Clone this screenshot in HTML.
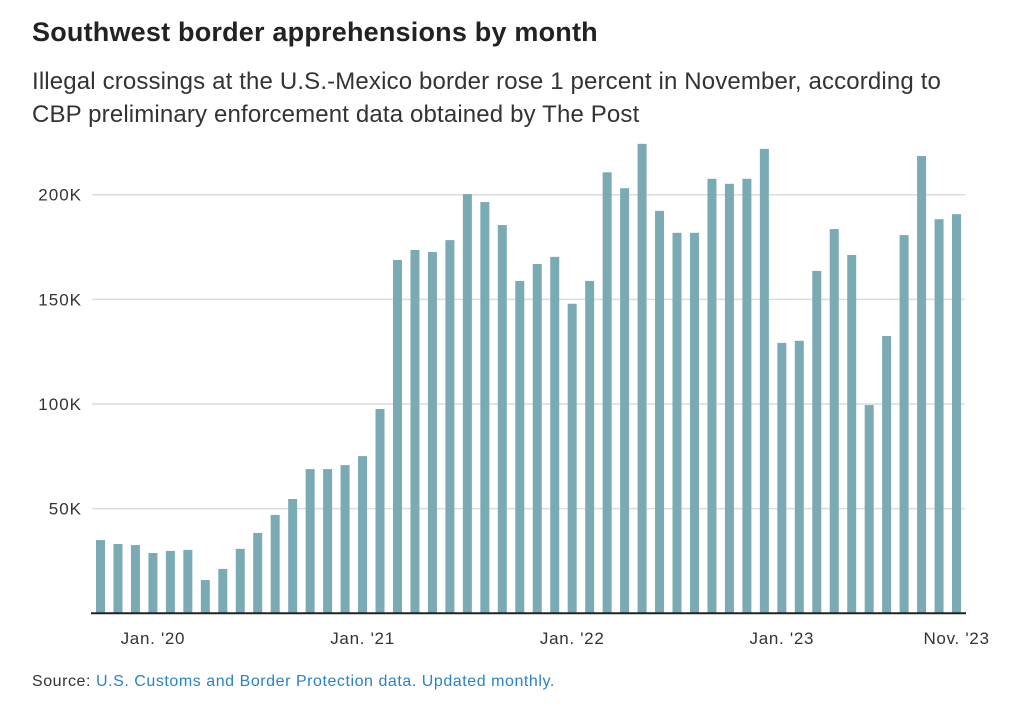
<!DOCTYPE html>
<html><head><meta charset="utf-8">
<style>
body{margin:0;background:#fff;width:1010px;height:705px;overflow:hidden;font-family:"Liberation Sans",sans-serif;}
#title{position:absolute;left:32px;top:17px;font-size:27px;font-weight:bold;color:#222;letter-spacing:0.2px;white-space:nowrap;}
#sub{position:absolute;left:32px;top:65px;font-size:24px;line-height:33px;color:#333;width:940px;letter-spacing:0.15px;}
#src{position:absolute;left:32px;top:673px;font-size:16px;color:#333;letter-spacing:0.55px;}
#src span{color:#2a83c4;}
svg{position:absolute;left:0;top:0;}
</style></head><body>
<div id="title">Southwest border apprehensions by month</div>
<div id="sub">Illegal crossings at the U.S.-Mexico border rose 1 percent in November, according to CBP preliminary enforcement data obtained by The Post</div>
<svg id="chart" width="1010" height="705"></svg>
<div id="src">Source: <span>U.S. Customs and Border Protection data. Updated monthly.</span></div>
<script>
const months=["Oct19","Nov19","Dec19","Jan20","Feb20","Mar20","Apr20","May20","Jun20","Jul20","Aug20","Sep20","Oct20","Nov20","Dec20","Jan21","Feb21","Mar21","Apr21","May21","Jun21","Jul21","Aug21","Sep21","Oct21","Nov21","Dec21","Jan22","Feb22","Mar22","Apr22","May22","Jun22","Jul22","Aug22","Sep22","Oct22","Nov22","Dec22","Jan23","Feb23","Mar23","Apr23","May23","Jun23","Jul23","Aug23","Sep23","Oct23","Nov23"];
const values=[35.0,33.1,32.6,28.8,29.8,30.3,15.9,21.2,30.8,38.4,47.0,54.6,68.9,68.9,70.8,75.1,97.6,168.8,173.6,172.6,178.3,200.3,196.5,185.5,158.8,166.9,170.3,147.9,158.8,210.7,203.1,224.3,192.3,181.8,181.8,207.6,205.2,207.6,221.9,129.2,130.2,163.6,183.6,171.2,99.5,132.5,180.7,218.5,188.3,190.7];
const yTicks=[50,100,150,200];
const yTickLabels=["50K","100K","150K","200K"];
const xTickIdx=[3,15,27,39,49];
const xTickLabels=["Jan. '20","Jan. '21","Jan. '22","Jan. '23","Nov. '23"];
const svg=document.getElementById('chart');
const NS='http://www.w3.org/2000/svg';
const y0=613.3,pxPerK=2.093,x0=96,step=17.47,bw=9;
const y=v=>y0-v*pxPerK;
const x=i=>x0+i*step;
function mk(t,a){const e=document.createElementNS(NS,t);for(const k in a)e.setAttribute(k,a[k]);svg.appendChild(e);return e;}
yTicks.forEach((t,i)=>{
  const g=mk('line',{x1:92,x2:965,y1:y(t),y2:y(t),stroke:'#dcdcdc','stroke-width':1.5});
  
  
  const l=mk('text',{x:82,y:y(t)+6,'text-anchor':'end','font-size':17,'letter-spacing':1,fill:'#333','font-family':'Liberation Sans, sans-serif'});
  l.textContent=yTickLabels[i];
  
  
});
values.forEach((v,i)=>{
  const r=mk('rect',{x:x(i),y:y(v),width:bw,height:v*pxPerK,fill:'#7aaab4'});
  
  
});
const ax=mk('line',{x1:91,x2:966,y1:y0,y2:y0,stroke:'#222','stroke-width':2});


xTickIdx.forEach((idx,i)=>{
  const t=mk('text',{x:x(idx)+bw/2,y:644,'text-anchor':'middle','font-size':17,'letter-spacing':0.7,fill:'#333','font-family':'Liberation Sans, sans-serif'});
  t.textContent=xTickLabels[i];
  
  
});
</script>
</body></html>
